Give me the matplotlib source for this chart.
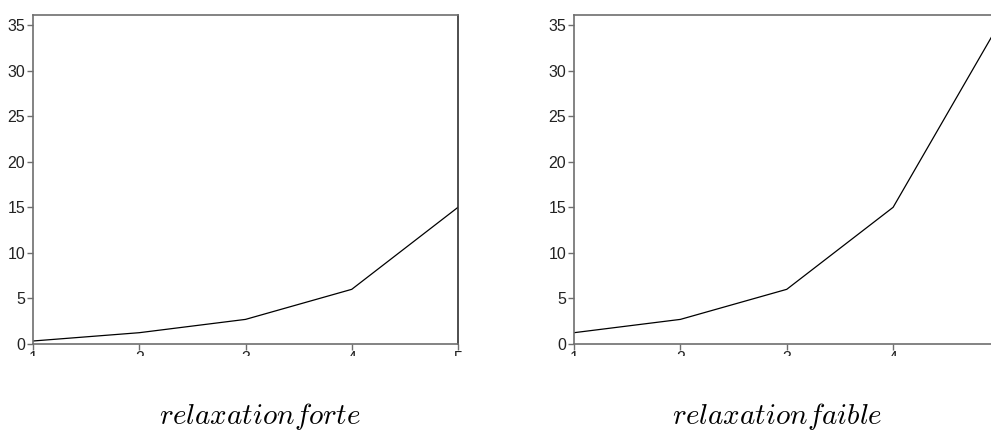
import matplotlib
matplotlib.use('Agg')
import matplotlib.pyplot as plt
from matplotlib.patches import Rectangle

plt.rcParams['font.family'] = ['Liberation Sans', 'DejaVu Sans']
plt.rcParams['mathtext.fontset'] = 'cm'

# donnees
niveaux = [1, 2, 3, 4, 5]
forte = [0.33, 1.24, 2.7, 6.0, 15.0]
faible = [1.24, 2.7, 6.0, 15.0, 35.2]
yticks = [0, 5, 10, 15, 20, 25, 30, 35]
xlabels_g = ['1', '2', '3', '4', '5']
xlabels_d = ['1', '2', '3', '4', '']
legendes = ['$relaxation forte$', '$relaxation faible$']

W, H = 991, 432
fig = plt.figure(figsize=(W / 100, H / 100), dpi=100)


def panneau(x0, x1, serie, xlabels):
    ax = fig.add_axes([x0 / W, (H - 344) / H, (x1 - x0) / W, 329 / H])
    ax.plot(niveaux, serie, color='black', lw=0.9)
    ax.set_xlim(1, 5)
    ax.set_ylim(0, 36.1)
    ax.set_xticks(niveaux, xlabels)
    ax.set_yticks(yticks)
    for s in ax.spines.values():
        s.set_color('#6e6e6e')
        s.set_linewidth(1.2)
    ax.spines['right'].set_color('#303030')
    ax.tick_params(colors='#6e6e6e', labelcolor='#222222', labelsize=11.5,
                   length=4, width=1, pad=1.5)
    ax.tick_params(axis='x', length=4, pad=1)
    return ax


panneau(33, 458, forte, xlabels_g)
panneau(574, 999.5, faible, xlabels_d)

# masque blanc qui coupe les etiquettes de l'axe x
fig.patches.append(Rectangle((0, (H - 398) / H), 1, 42 / H, transform=fig.transFigure,
                             facecolor='white', edgecolor='none', zorder=5))

fig.text(260 / W, (H - 416) / H, legendes[0], fontsize=21, ha='center', va='center', zorder=6)
fig.text(777 / W, (H - 416) / H, legendes[1], fontsize=21, ha='center', va='center', zorder=6)

fig.savefig('out.png', dpi=100, facecolor='white')
